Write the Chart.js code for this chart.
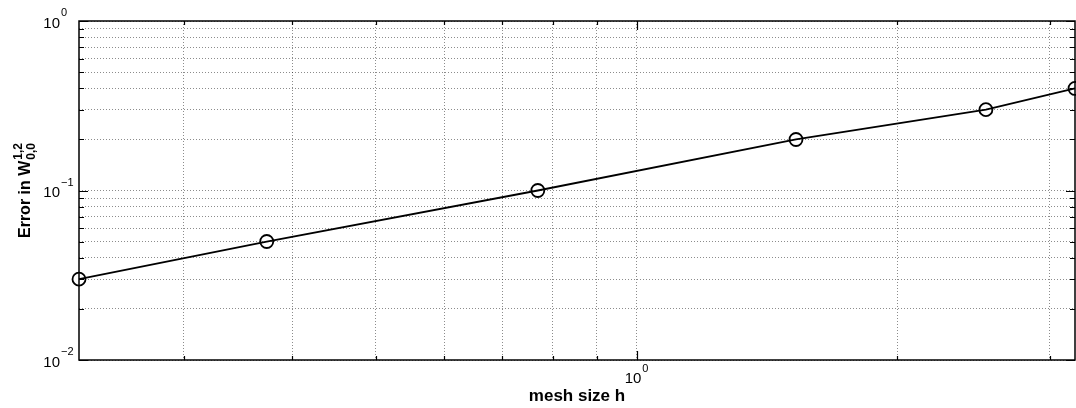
<!DOCTYPE html>
<html><head><meta charset="utf-8">
<script src="https://cdn.jsdelivr.net/npm/chart.js@4.4.0/dist/chart.umd.min.js"></script>
<style>html,body{margin:0;padding:0;background:#fff}canvas{display:block}</style>
</head><body>
<canvas id="c" width="1076" height="408"></canvas>
<script>
// ---- data ----
const meshSizes = [0.227, 0.374, 0.769, 1.528, 2.532, 3.209];
const errors    = [0.03, 0.05, 0.1, 0.2, 0.3, 0.4];
const xRange = [0.227, 3.209];
const yRange = [0.01, 1];
const xTickValues = [0.3, 0.4, 0.5, 0.6, 0.7, 0.8, 0.9, 1, 2, 3];
const yTickValues = [0.01, 0.02, 0.03, 0.04, 0.05, 0.06, 0.07, 0.08, 0.09,
                     0.1, 0.2, 0.3, 0.4, 0.5, 0.6, 0.7, 0.8, 0.9, 1];
const xTickLabels = [{value: 1, base: '10', exp: '0'}];
const yTickLabels = [{value: 1, base: '10', exp: '0'},
                     {value: 0.1, base: '10', exp: '\u22121'},
                     {value: 0.01, base: '10', exp: '\u22122'}];
const xTitle = 'mesh size h';
const yTitle = {main: 'Error in W', sup: '1,2', sub: '0,0'};

const FONT = '"Liberation Sans", Arial, Helvetica, sans-serif';
const isMajor = v => Math.abs(Math.log10(v) - Math.round(Math.log10(v))) < 1e-9;

const decor = {
  id: 'decor',
  beforeDatasetsDraw(chart) {
    const ctx = chart.ctx, a = chart.chartArea, xs = chart.scales.x, ys = chart.scales.y;
    ctx.save();
    ctx.strokeStyle = '#000';
    ctx.lineWidth = 1.5;
    ctx.strokeRect(a.left, a.top, a.right - a.left, a.bottom - a.top);
    ctx.lineWidth = 1.2;
    ctx.beginPath();
    yTickValues.forEach(v => {
      const y = Math.round(ys.getPixelForValue(v)) + 0.5;
      const L = isMajor(v) ? 9 : 5;
      ctx.moveTo(a.left, y); ctx.lineTo(a.left + L, y);
      ctx.moveTo(a.right, y); ctx.lineTo(a.right - L, y);
    });
    xTickValues.forEach(v => {
      const x = Math.round(xs.getPixelForValue(v)) + 0.5;
      const L = isMajor(v) ? 9 : 4;
      ctx.moveTo(x, a.bottom); ctx.lineTo(x, a.bottom - L);
      ctx.moveTo(x, a.top); ctx.lineTo(x, a.top + L);
    });
    ctx.stroke();
    ctx.restore();
  },
  afterDraw(chart) {
    const ctx = chart.ctx, a = chart.chartArea, xs = chart.scales.x, ys = chart.scales.y;
    ctx.save();
    ctx.fillStyle = '#000';
    ctx.textBaseline = 'alphabetic';
    // x tick labels
    xTickLabels.forEach(t => {
      const x = xs.getPixelForValue(t.value);
      ctx.font = '15px ' + FONT;
      const wb = ctx.measureText(t.base).width;
      ctx.font = '11px ' + FONT;
      const we = ctx.measureText(t.exp).width;
      const x0 = x - (wb + we + 1) / 2;
      ctx.font = '15px ' + FONT;
      ctx.fillText(t.base, x0, a.bottom + 23);
      ctx.font = '11px ' + FONT;
      ctx.fillText(t.exp, x0 + wb + 1, a.bottom + 12);
    });
    // y tick labels
    yTickLabels.forEach(t => {
      const y = ys.getPixelForValue(t.value);
      ctx.font = '15px ' + FONT;
      const wb = ctx.measureText(t.base).width;
      ctx.fillText(t.base, 60 - wb, y + 6.5);
      ctx.font = '11px ' + FONT;
      ctx.fillText(t.exp, 61, y - 5);
    });
    // x title
    ctx.font = 'bold 17px ' + FONT;
    ctx.textAlign = 'center';
    ctx.fillText(xTitle, (a.left + a.right) / 2, 401);
    // y title (rotated, with super/subscript)
    ctx.textAlign = 'left';
    ctx.font = 'bold 16px ' + FONT;
    const wm = ctx.measureText(yTitle.main).width;
    ctx.font = 'bold 12px ' + FONT;
    const ws = Math.max(ctx.measureText(yTitle.sup).width, ctx.measureText(yTitle.sub).width);
    const total = wm + 1 + ws;
    const cy = (a.top + a.bottom) / 2;
    ctx.translate(30, cy + total / 2);
    ctx.rotate(-Math.PI / 2);
    ctx.font = 'bold 16px ' + FONT;
    ctx.fillText(yTitle.main, 0, 0);
    ctx.font = 'bold 12px ' + FONT;
    ctx.fillText(yTitle.sup, wm + 1, -8);
    ctx.fillText(yTitle.sub, wm + 1, 5);
    ctx.restore();
  }
};

function setTicks(values) {
  return function (scale) { scale.ticks = values.map(v => ({value: v, major: isMajor(v)})); };
}

new Chart(document.getElementById('c'), {
  type: 'line',
  data: {
    datasets: [{
      data: meshSizes.map((h, i) => ({x: h, y: errors[i]})),
      borderColor: '#000',
      borderWidth: 1.8,
      pointStyle: 'circle',
      pointRadius: 6.5,
      pointBorderWidth: 1.8,
      pointBorderColor: '#000',
      pointBackgroundColor: 'rgba(0,0,0,0)',
      tension: 0,
      clip: false
    }]
  },
  options: {
    responsive: false,
    animation: false,
    devicePixelRatio: 1,
    layout: {autoPadding: false, padding: {left: 79, right: 1, top: 21, bottom: 48}},
    plugins: {legend: {display: false}, tooltip: {enabled: false}},
    scales: {
      x: {
        type: 'logarithmic', min: xRange[0], max: xRange[1],
        afterBuildTicks: setTicks(xTickValues),
        ticks: {display: false},
        grid: {color: 'rgba(0,0,0,0.45)', lineWidth: 1, drawTicks: false},
        border: {display: false, dash: [1, 2]}
      },
      y: {
        type: 'logarithmic', min: yRange[0], max: yRange[1],
        afterBuildTicks: setTicks(yTickValues),
        ticks: {display: false},
        grid: {color: 'rgba(0,0,0,0.45)', lineWidth: 1, drawTicks: false},
        border: {display: false, dash: [1, 2]}
      }
    }
  },
  plugins: [decor]
});
</script>
</body></html>
